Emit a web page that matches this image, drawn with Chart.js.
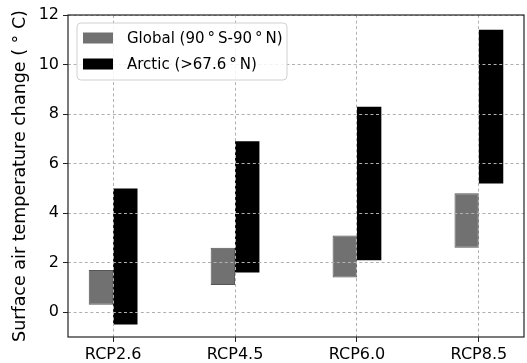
<!DOCTYPE html>
<html>
<head>
<meta charset="utf-8">
<script src="https://cdn.jsdelivr.net/npm/chart.js@4"></script>
<style>
    html, body { margin: 0; padding: 0; background: #fff; }
    #wrap { width: 527px; height: 363px; }
</style>
</head>
<body>
<div id="wrap"><canvas id="tempChart" width="527" height="363"></canvas></div>
<script>
// scenarios on the x axis
const scenarios = ['RCP2.6', 'RCP4.5', 'RCP6.0', 'RCP8.5'];
// warming ranges [low, high] in degrees C
const globalRange = [[0.3, 1.7], [1.1, 2.6], [1.4, 3.1], [2.6, 4.8]];
const arcticRange = [[-0.5, 5.0], [1.6, 6.9], [2.1, 8.3], [5.2, 11.4]];
const yTicks = [0, 2, 4, 6, 8, 10, 12];
const seriesNames = ['Global (90\u2009°\u2009S-90\u2009°\u2009N)', 'Arctic (>67.6\u2009°\u2009N)'];

const font = "'DejaVu Sans', sans-serif";

// black frame round the plot area + legend in the top left corner
const framePlugin = {
    id: 'frame',
    afterDraw(chart) {
        const ctx = chart.ctx;
        const a = chart.chartArea;
        ctx.save();
        ctx.strokeStyle = '#222';
        ctx.lineWidth = 1.2;
        ctx.strokeRect(a.left, a.top, a.right - a.left, a.bottom - a.top);

        // legend
        const bx = a.left + 9, by = a.top + 8, bw = 210, bh = 57;
        ctx.beginPath();
        ctx.roundRect(bx, by, bw, bh, 4);
        ctx.fillStyle = 'rgba(255,255,255,0.85)';
        ctx.fill();
        ctx.strokeStyle = '#d0d0d0';
        ctx.lineWidth = 1;
        ctx.stroke();

        ctx.font = '15px ' + font;
        ctx.textBaseline = 'middle';
        chart.data.datasets.forEach((ds, i) => {
            const cy = by + 15 + i * 26;
            ctx.fillStyle = ds.backgroundColor;
            ctx.fillRect(bx + 6, cy - 5.5, 30, 11);
            ctx.fillStyle = '#000';
            ctx.fillText(ds.label, bx + 50, cy + 1);
        });
        ctx.restore();
    }
};

const ctx = document.getElementById('tempChart').getContext('2d');
new Chart(ctx, {
    type: 'bar',
    data: {
        datasets: [
            {
                label: seriesNames[0],
                data: globalRange.map((r, i) => ({ x: i, y: r })),
                backgroundColor: '#717171',
                borderColor: '#555',
                borderWidth: 1,
                borderSkipped: false
            },
            {
                label: seriesNames[1],
                data: arcticRange.map((r, i) => ({ x: i, y: r })),
                backgroundColor: '#000',
                borderWidth: 0
            }
        ]
    },
    options: {
        responsive: false,
        animation: false,
        categoryPercentage: 0.4,
        barPercentage: 1.0,
        layout: { padding: { top: 15, right: 3, left: 0, bottom: 0 } },
        plugins: {
            legend: { display: false },
            tooltip: { enabled: false }
        },
        scales: {
            x: {
                type: 'linear',
                min: -0.37,
                max: 3.37,
                offset: false,
                afterBuildTicks: (scale) => {
                    scale.ticks = scenarios.map((s, i) => ({ value: i }));
                },
                afterFit: (scale) => { scale.height = 26; },
                ticks: {
                    callback: (v) => scenarios[v],
                    color: '#000',
                    font: { family: font, size: 16 },
                    padding: 3,
                    maxRotation: 0
                },
                grid: {
                    z: 1,
                    offset: false,
                    color: '#b0b0b0',
                    tickColor: '#222',
                    tickLength: 5,
                    lineWidth: 1
                },
                border: { display: false, dash: [3, 2.6] }
            },
            y: {
                min: -1,
                max: 12,
                afterBuildTicks: (scale) => {
                    scale.ticks = yTicks.map(v => ({ value: v }));
                },
                afterFit: (scale) => { scale.width = 68; },
                ticks: {
                    color: '#000',
                    font: { family: font, size: 16 },
                    padding: 4
                },
                grid: {
                    z: 1,
                    color: '#b0b0b0',
                    tickColor: '#222',
                    tickLength: 5,
                    lineWidth: 1
                },
                border: { display: false, dash: [3, 2.6] },
                title: {
                    display: true,
                    text: 'Surface air temperature change ( ° C)',
                    color: '#000',
                    font: { family: font, size: 17.5 },
                    padding: { top: 10, bottom: 2 }
                }
            }
        }
    },
    plugins: [framePlugin]
});
</script>
</body>
</html>
